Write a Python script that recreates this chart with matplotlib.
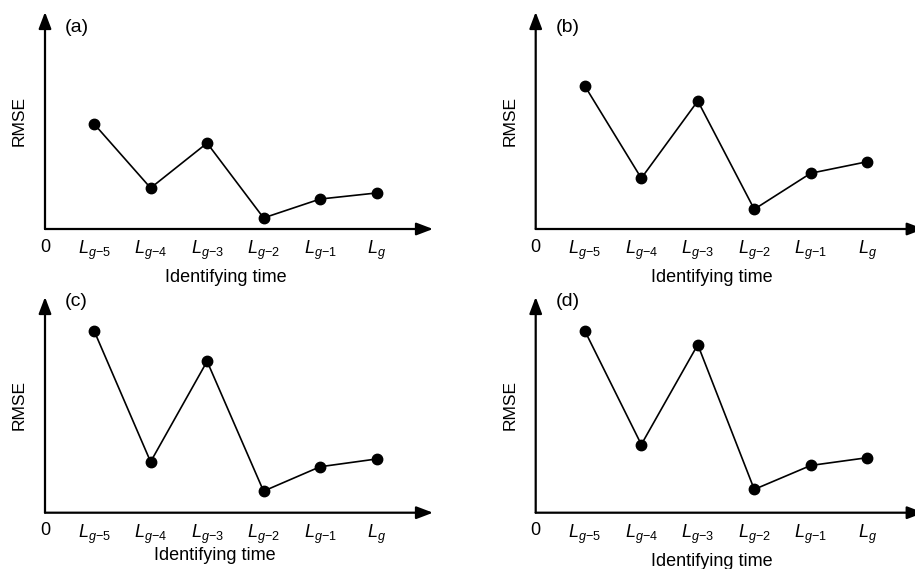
import matplotlib
matplotlib.use("Agg")
import matplotlib.pyplot as plt

plt.rcParams["font.family"] = ["Liberation Sans", "DejaVu Sans"]
plt.rcParams["mathtext.fontset"] = "custom"
plt.rcParams["mathtext.rm"] = "Liberation Sans"
plt.rcParams["mathtext.it"] = "Liberation Sans:italic"
plt.rcParams["mathtext.bf"] = "Liberation Sans:bold"

# Identifying times (categorical positions along the time axis)
tick_labels = [r"$L_{g\mathrm{-}5}$", r"$L_{g\mathrm{-}4}$", r"$L_{g\mathrm{-}3}$",
               r"$L_{g\mathrm{-}2}$", r"$L_{g\mathrm{-}1}$", r"$L_{g}$"]
positions = [1, 2, 3, 4, 5, 6]

# RMSE values (arbitrary units, axis runs 0..10)
rmse_a = [4.84, 1.89, 3.96, 0.51, 1.38, 1.66]
rmse_b = [6.59, 2.34, 5.90, 0.91, 2.57, 3.10]
rmse_c = [8.43, 2.36, 7.02, 1.00, 2.13, 2.49]
rmse_d = [8.43, 3.16, 7.79, 1.08, 2.19, 2.55]

panel_names = ["(a)", "(b)", "(c)", "(d)"]

W, H = 915, 569
fig = plt.figure(figsize=(W / 100, H / 100), dpi=100)

X0, X1 = 0.13, 7.0
YMAX = 10.0

# (origin_x_px, origin_y_px, top_y_px, label_x_data, xlabel_offset_px, panel label y px)
layout = [
    (45.0, 229.0, 12.0, 3.33, 48, 27),
    (535.7, 229.0, 12.0, 3.25, 48, 27),
    (45.0, 512.7, 297.0, 3.14, 43, 302),
    (535.7, 512.7, 297.0, 3.25, 49, 302),
]
series = [rmse_a, rmse_b, rmse_c, rmse_d]
AX_W_PX = 388.0

for name, vals, (ox, oy, ty, lx, xl_off, py) in zip(panel_names, series, layout):
    ax = fig.add_axes([ox / W, (H - oy) / H, AX_W_PX / W, (oy - ty) / H])
    ax.set_xlim(X0, X1)
    ax.set_ylim(0, YMAX)
    for s in ax.spines.values():
        s.set_visible(False)
    ax.set_yticks([])
    ax.set_xticks([X0] + positions, ["0"] + tick_labels, fontsize=13)
    ax.tick_params(axis="x", length=0, pad=7)

    # axis arrows
    arrow = dict(arrowstyle="-|>,head_length=1.0,head_width=0.38",
                 mutation_scale=10, lw=1.6, color="black",
                 shrinkA=0, shrinkB=0)
    ax.annotate("", xy=(1, 0), xytext=(0, 0), xycoords="axes fraction",
                textcoords="axes fraction", arrowprops=arrow,
                annotation_clip=False)
    ax.annotate("", xy=(0, 1), xytext=(0, 0), xycoords="axes fraction",
                textcoords="axes fraction", arrowprops=arrow,
                annotation_clip=False)

    ax.plot(positions, vals, color="black", lw=1.2, marker="o", ms=7.5,
            markerfacecolor="black", markeredgecolor="black", clip_on=False,
            zorder=3)

    ax.set_ylabel("RMSE", fontsize=12.5, labelpad=13)
    ax.text(lx, -xl_off / (oy - ty), "Identifying time", fontsize=13,
            ha="center", va="center", transform=ax.get_xaxis_transform())

    fig.text((ox + 20) / W, (H - py) / H, name, fontsize=14,
             ha="left", va="center")

fig.savefig("out.png", dpi=100)
